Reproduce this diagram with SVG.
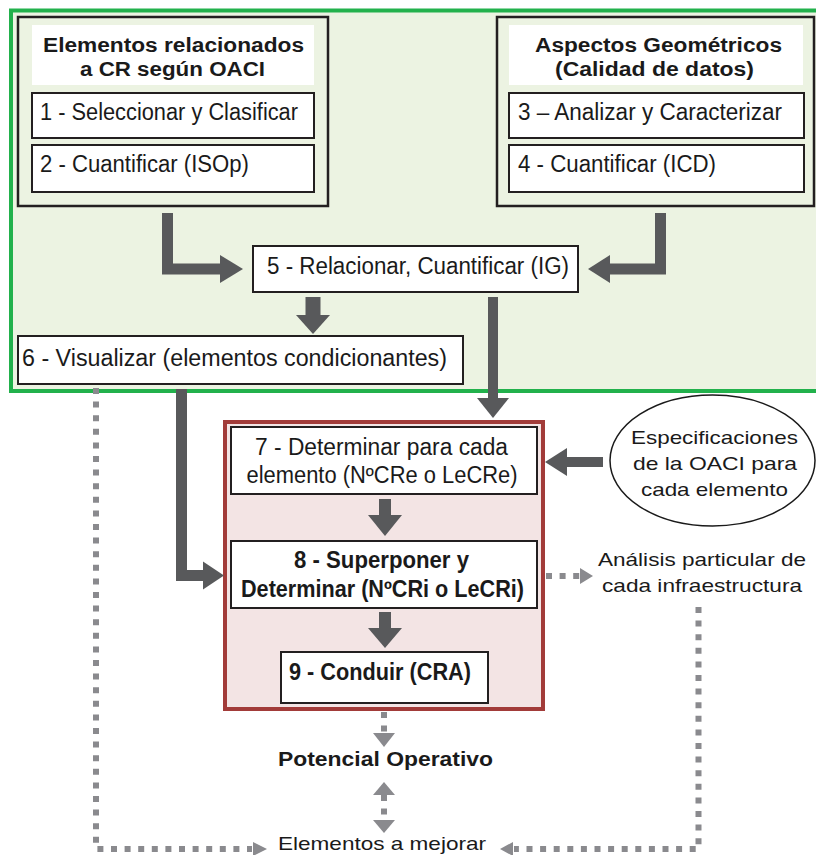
<svg xmlns="http://www.w3.org/2000/svg" width="816" height="855" viewBox="0 0 816 855">
<defs>
<style>
.bg{fill:#fff}
.box{fill:#fff;stroke:#231f20;stroke-width:2}
.grp{fill:none;stroke:#231f20;stroke-width:2.5}
.t{font-family:"Liberation Sans",Arial,sans-serif;fill:#1a1a1a}
.c{font-size:23px}
.b{font-weight:bold}
.h{font-size:20px;font-weight:bold}
.a{font-size:19px}
.mid{text-anchor:middle}
.thick{fill:none;stroke:#58595b;stroke-linejoin:miter}
.head{fill:#58595b}
.dot{fill:none;stroke:#8a8a8e;stroke-width:6;stroke-dasharray:6 7.6}
.dh{fill:#8a8a8e}
</style>
</defs>
<rect class="bg" x="0" y="0" width="816" height="855"/>

<g id="contenedor-verde">
<rect x="11" y="10.5" width="820" height="380.5" fill="#ecf3e2" stroke="#22b14c" stroke-width="4"/>
</g>
<g id="contenedor-rojo">
<rect x="225" y="422" width="318" height="287" fill="#f3e4e4" stroke="#a23b39" stroke-width="4"/>
</g>

<g id="grupo-elementos">
<rect class="grp" x="18" y="17" width="310" height="189"/>
<rect class="bg" x="32" y="25" width="282" height="60"/>
<text class="t h mid" x="173.5" y="52" textLength="261" lengthAdjust="spacingAndGlyphs">Elementos relacionados</text>
<text class="t h mid" x="172.5" y="76" textLength="185" lengthAdjust="spacingAndGlyphs">a CR según OACI</text>
</g>
<g id="n1">
<rect class="box" x="32" y="93" width="282" height="45"/>
<text class="t c" x="40" y="120" textLength="258" lengthAdjust="spacingAndGlyphs">1 - Seleccionar y Clasificar</text>
</g>
<g id="n2">
<rect class="box" x="32" y="145" width="282" height="47"/>
<text class="t c" x="40" y="172" textLength="209" lengthAdjust="spacingAndGlyphs">2 - Cuantificar (ISOp)</text>
</g>

<g id="grupo-geometricos">
<rect class="grp" x="497" y="17" width="317" height="189"/>
<rect class="bg" x="509" y="25" width="294" height="60"/>
<text class="t h mid" x="658.5" y="52" textLength="247" lengthAdjust="spacingAndGlyphs">Aspectos Geométricos</text>
<text class="t h mid" x="654.5" y="76" textLength="199" lengthAdjust="spacingAndGlyphs">(Calidad de datos)</text>
</g>
<g id="n3">
<rect class="box" x="509" y="93" width="295" height="45"/>
<text class="t c" x="518" y="120" textLength="264" lengthAdjust="spacingAndGlyphs">3 – Analizar y Caracterizar</text>
</g>
<g id="n4">
<rect class="box" x="509" y="145" width="295" height="47"/>
<text class="t c" x="518" y="172" textLength="198" lengthAdjust="spacingAndGlyphs">4 - Cuantificar (ICD)</text>
</g>

<g id="n5">
<rect class="box" x="253" y="246" width="325" height="46"/>
<text class="t c" x="267" y="274" textLength="302" lengthAdjust="spacingAndGlyphs">5 - Relacionar, Cuantificar (IG)</text>
</g>
<g id="n6">
<rect class="box" x="18" y="336" width="445" height="48"/>
<text class="t c" x="22" y="366" textLength="425" lengthAdjust="spacingAndGlyphs">6 - Visualizar (elementos condicionantes)</text>
</g>
<g id="n7">
<rect class="box" x="231" y="427" width="306" height="67"/>
<text class="t c mid" x="381.5" y="455" textLength="253" lengthAdjust="spacingAndGlyphs">7 - Determinar para cada</text>
<text class="t c mid" x="382" y="483" textLength="271" lengthAdjust="spacingAndGlyphs">elemento (NºCRe o LeCRe)</text>
</g>
<g id="n8">
<rect class="box" x="231" y="541" width="306" height="67"/>
<text class="t c b mid" x="381.5" y="568" textLength="175" lengthAdjust="spacingAndGlyphs">8 - Superponer y</text>
<text class="t c b mid" x="382.5" y="597" textLength="283" lengthAdjust="spacingAndGlyphs">Determinar (NºCRi o LeCRi)</text>
</g>
<g id="n9">
<rect class="box" x="281" y="652" width="207" height="51"/>
<text class="t c b" x="289" y="680" textLength="182" lengthAdjust="spacingAndGlyphs">9 - Conduir (CRA)</text>
</g>

<g id="especificaciones">
<ellipse cx="712.5" cy="460.5" rx="102.5" ry="65.5" fill="#fff" stroke="#1a1a1a" stroke-width="1.5"/>
<text class="t a mid" x="714.5" y="444" textLength="167" lengthAdjust="spacingAndGlyphs">Especificaciones</text>
<text class="t a mid" x="715" y="470" textLength="164" lengthAdjust="spacingAndGlyphs">de la OACI para</text>
<text class="t a mid" x="714.5" y="496" textLength="147" lengthAdjust="spacingAndGlyphs">cada elemento</text>
</g>
<g id="analisis">
<text class="t a mid" x="702" y="566" textLength="208" lengthAdjust="spacingAndGlyphs">Análisis particular de</text>
<text class="t a mid" x="702" y="592" textLength="200" lengthAdjust="spacingAndGlyphs">cada infraestructura</text>
</g>
<g id="potencial">
<text class="t h mid" x="385.5" y="766" textLength="215" lengthAdjust="spacingAndGlyphs">Potencial Operativo</text>
</g>
<g id="mejorar">
<text class="t a mid" x="382" y="850" textLength="208" lengthAdjust="spacingAndGlyphs">Elementos a mejorar</text>
</g>

<g id="conectores">
<path class="thick" stroke-width="11" d="M167.5 213 V269 H221"/>
<polygon class="head" points="220,255 243,269 220,283"/>
<path class="thick" stroke-width="11" d="M660.5 213 V269 H609"/>
<polygon class="head" points="610,255 588,269 610,283"/>
<path class="thick" stroke-width="15" d="M313 297 V316"/>
<polygon class="head" points="296,315 330,315 313,334"/>
<path class="thick" stroke-width="10" d="M493 297 V399"/>
<polygon class="head" points="477,398 509,398 493,418"/>
<path class="thick" stroke-width="11" d="M181.5 389 V575.5 H204"/>
<polygon class="head" points="203,561.5 224,575.5 203,589.5"/>
<path class="thick" stroke-width="10" d="M603 462 H566"/>
<polygon class="head" points="567,448 545,462 567,476"/>
<path class="thick" stroke-width="12" d="M385 499 V516"/>
<polygon class="head" points="368,515 402,515 385,536"/>
<path class="thick" stroke-width="12" d="M385 612 V629"/>
<polygon class="head" points="368,628 402,628 385,648"/>

<path class="dot" d="M96 388 V849 H252"/>
<polygon class="dh" points="253,842 267,849 253,856"/>
<path class="dot" d="M698.5 607 V849 H514"/>
<polygon class="dh" points="513,842 500,849 513,856"/>
<path class="dot" d="M546 576 H580"/>
<polygon class="dh" points="580,568 593,576 580,584"/>
<path class="dot" d="M384 712 V733"/>
<polygon class="dh" points="373,733 395,733 384,747"/>
<path class="dot" d="M384 795 V820"/>
<polygon class="dh" points="373,795 395,795 384,782"/>
<polygon class="dh" points="373,820 395,820 384,833"/>
</g>
</svg>
